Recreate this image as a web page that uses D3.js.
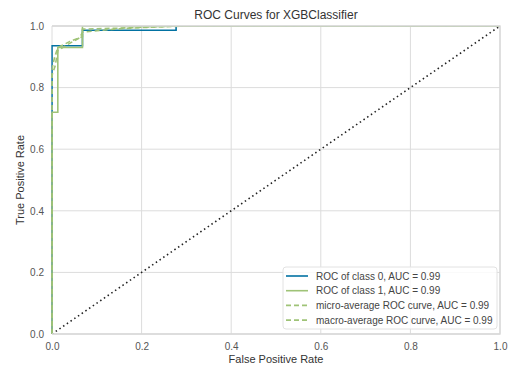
<!DOCTYPE html>
<html lang="en">
<head>
  <meta charset="UTF-8" />
  <title>ROC Curves for XGBClassifier</title>
  <style>
    body { margin: 0; background: #fff; font-family: "Liberation Sans", Arial, sans-serif; }
    svg { display: block; }
    .grid line { stroke: #dcdcdc; stroke-width: 1; }
    .tick text { fill: #555; font-size: 10px; }
    .label { fill: #333; font-size: 11px; }
    .title { fill: #333; font-size: 12px; }
    .legend text { fill: #444; font-size: 10px; }
  </style>
</head>
<body>

<svg id="chart"></svg>

<script src="https://d3js.org/d3.v7.min.js"></script>
<script>
  const width = 508, height = 367;
  const margin = { top: 26, right: 8, bottom: 33, left: 52 };

  const ticks = [0, 0.2, 0.4, 0.6, 0.8, 1.0];

  // ROC points
  const class0Fpr = [0, 0, 0.068, 0.068, 0.277, 0.277, 1];
  const class0Tpr = [0, 0.936, 0.936, 0.986, 0.986, 1, 1];

  const class1Fpr = [0, 0, 0.013, 0.013, 0.068, 0.068, 1];
  const class1Tpr = [0, 0.72, 0.72, 0.93, 0.93, 1, 1];

  const microFpr = [0, 0, 0.007, 0.013, 0.035, 0.062, 0.068, 0.14, 0.2, 0.3, 1];
  const microTpr = [0, 0.84, 0.87, 0.92, 0.94, 0.962, 0.98, 0.99, 0.995, 1, 1];

  const macroFpr = [0, 0, 0.006, 0.013, 0.04, 0.068, 0.068, 0.15, 0.277, 1];
  const macroTpr = [0, 0.86, 0.9, 0.93, 0.95, 0.965, 0.99, 0.993, 1, 1];

  const labels = [
    "ROC of class 0, AUC = 0.99",
    "ROC of class 1, AUC = 0.99",
    "micro-average ROC curve, AUC = 0.99",
    "macro-average ROC curve, AUC = 0.99"
  ];

  const series = [
    { fpr: class0Fpr, tpr: class0Tpr, color: "#0272a2", dash: null },
    { fpr: class1Fpr, tpr: class1Tpr, color: "#9fc377", dash: null },
    { fpr: microFpr, tpr: microTpr, color: "#9fc377", dash: "5,3" },
    { fpr: macroFpr, tpr: macroTpr, color: "#9fc377", dash: "5,3" }
  ];

  const svg = d3.select("#chart").attr("width", width).attr("height", height);

  const x = d3.scaleLinear().domain([0, 1]).range([margin.left, width - margin.right]);
  const y = d3.scaleLinear().domain([0, 1]).range([height - margin.bottom, margin.top]);

  // clip to the axes box, a hair wider on the left so the x=0 segments show
  svg.append("clipPath").attr("id", "plot-clip")
    .append("rect")
    .attr("x", x(0) - 0.8).attr("y", y(1))
    .attr("width", x(1) - x(0) + 0.8).attr("height", y(0) - y(1));

  // grid
  const grid = svg.append("g").attr("class", "grid");
  grid.selectAll(".gx").data(ticks).enter().append("line")
    .attr("x1", d => x(d)).attr("x2", d => x(d))
    .attr("y1", y(0)).attr("y2", y(1));
  grid.selectAll(".gy").data(ticks).enter().append("line")
    .attr("x1", x(0)).attr("x2", x(1))
    .attr("y1", d => y(d)).attr("y2", d => y(d));

  // axes
  const xAxis = svg.append("g")
    .attr("transform", `translate(0,${y(0)})`)
    .call(d3.axisBottom(x).tickValues(ticks).tickFormat(d3.format(".1f")).tickSize(0).tickPadding(9));
  const yAxis = svg.append("g")
    .attr("transform", `translate(${x(0)},0)`)
    .call(d3.axisLeft(y).tickValues(ticks).tickFormat(d3.format(".1f")).tickSize(0).tickPadding(8));
  xAxis.select(".domain").remove();
  yAxis.select(".domain").remove();
  svg.selectAll(".tick text").attr("font-family", "Liberation Sans, Arial, sans-serif");

  const line = d3.line().x(d => x(d[0])).y(d => y(d[1]));
  const plot = svg.append("g").attr("clip-path", "url(#plot-clip)");

  // diagonal
  plot.append("path")
    .datum([[0, 0], [1, 1]])
    .attr("d", line)
    .attr("fill", "none")
    .attr("stroke", "#222")
    .attr("stroke-width", 1.6)
    .attr("stroke-dasharray", "1.5,3");

  series.forEach(s => {
    plot.append("path")
      .datum(s.fpr.map((f, i) => [f, s.tpr[i]]))
      .attr("d", line)
      .attr("fill", "none")
      .attr("stroke", s.color)
      .attr("stroke-width", 1.6)
      .attr("stroke-dasharray", s.dash);
  });

  // frame on top (top, right, bottom)
  svg.append("path")
    .attr("d", `M${x(0)},${y(1)}H${x(1)}V${y(0)}H${x(0)}`)
    .attr("fill", "none")
    .attr("stroke", "#d8d8d8")
    .attr("stroke-width", 1.3);

  // titles
  svg.append("text").attr("class", "title")
    .attr("x", (x(0) + x(1)) / 2).attr("y", 19)
    .attr("text-anchor", "middle")
    .text("ROC Curves for XGBClassifier");
  svg.append("text").attr("class", "label")
    .attr("x", (x(0) + x(1)) / 2).attr("y", 363)
    .attr("text-anchor", "middle")
    .text("False Positive Rate");
  svg.append("text").attr("class", "label")
    .attr("transform", `translate(24,${(y(0) + y(1)) / 2}) rotate(-90)`)
    .attr("text-anchor", "middle")
    .text("True Positive Rate");

  // legend
  const legend = svg.append("g").attr("class", "legend").attr("transform", "translate(283,267)");
  legend.append("rect")
    .attr("width", 214).attr("height", 62).attr("rx", 3)
    .attr("fill", "#fff").attr("fill-opacity", 0.85)
    .attr("stroke", "#e2e2e2");
  const rows = legend.selectAll(".row").data(series).enter().append("g")
    .attr("transform", (d, i) => `translate(0,${9 + i * 14.7})`);
  rows.append("line")
    .attr("x1", 3).attr("x2", 25).attr("y1", 0).attr("y2", 0)
    .attr("stroke", d => d.color).attr("stroke-width", 1.6)
    .attr("stroke-dasharray", d => d.dash);
  rows.append("text")
    .attr("x", 33).attr("y", 3.5)
    .text((d, i) => labels[i]);
</script>

</body>
</html>
